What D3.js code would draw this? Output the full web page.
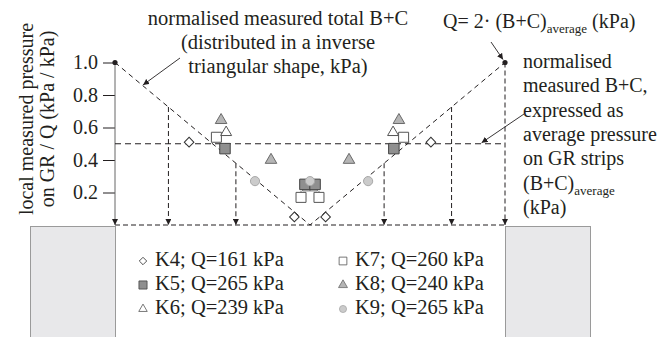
<!DOCTYPE html>
<html>
<head>
<meta charset="utf-8">
<script src="https://cdn.jsdelivr.net/npm/d3@7"></script>
</head>
<body style="margin:0;background:#fff">
<svg width="662" height="337"></svg>
<script>
// ---- data (x = relative position across the GR strips, y = local pressure / Q)
const series = ['K4', 'K5', 'K6', 'K7', 'K8', 'K9'];
const qValues = [161, 265, 239, 260, 240, 265];

const k4Points = [[0.19, 0.51], [0.46, 0.05], [0.54, 0.05], [0.81, 0.51]];
const k5Points = [[0.282, 0.47], [0.487, 0.25], [0.513, 0.25], [0.715, 0.47]];
const k6Points = [[0.285, 0.57], [0.713, 0.57]];
const k7Points = [[0.26, 0.54], [0.477, 0.17], [0.523, 0.17], [0.74, 0.54]];
const k8Points = [[0.272, 0.645], [0.40, 0.40], [0.60, 0.40], [0.728, 0.645]];
const k9Points = [[0.359, 0.27], [0.5, 0.27], [0.649, 0.27]];

// inverse triangular distribution and the average level
const trianglePoints = [[0, 1], [0.5, 0], [1, 1]];
const averageLevel = 0.5;
// positions of the GR strips (vertical arrows)
const stripX = [0.137, 0.31, 0.69, 0.863, 1];
const yTicks = [0.2, 0.4, 0.6, 0.8, 1.0];

const serif = '"Liberation Serif"';
const ink = '#231f20';

const svg = d3.select('svg');

const x = d3.scaleLinear().domain([0, 1]).range([115, 505]);
const y = d3.scaleLinear().domain([0, 1]).range([225, 62.5]);

// text helper: serif font set through style
const label = (sel, size) => sel.style('font-family', serif).attr('font-size', size).attr('fill', ink);

// arrowhead marker
svg.append('defs').append('marker')
    .attr('id', 'arrow')
    .attr('viewBox', '0 0 10 10')
    .attr('refX', 10).attr('refY', 5)
    .attr('markerWidth', 6).attr('markerHeight', 6)
    .attr('markerUnits', 'userSpaceOnUse')
    .attr('orient', 'auto')
  .append('path')
    .attr('d', 'M0,0 L10,5 L0,10 Z')
    .attr('fill', ink);

// ---- supports (grey blocks) below the baseline
const supports = [[30, 115], [505, 590]];
svg.selectAll('rect.support')
  .data(supports)
  .enter().append('rect')
    .attr('class', 'support')
    .attr('x', d => d[0] + 0.5)
    .attr('y', 226.5)
    .attr('width', d => d[1] - d[0])
    .attr('height', 130)
    .attr('fill', '#e8e8ea')
    .attr('stroke', '#9a9a9a')
    .attr('stroke-width', 1);

// ---- axis
const axis = svg.append('g')
    .attr('transform', `translate(${x(0)},0)`)
    .call(d3.axisLeft(y).tickValues(yTicks).tickFormat(d3.format('.1f')).tickSize(12).tickPadding(5));
axis.select('.domain').remove();
axis.selectAll('line').attr('stroke', ink);
axis.selectAll('text').call(label, 20);

// axis line with arrow at the bottom
svg.append('line')
    .attr('x1', x(0)).attr('x2', x(0))
    .attr('y1', y(1)).attr('y2', y(0))
    .attr('stroke', '#666')
    .attr('marker-end', 'url(#arrow)');

svg.append('g')
    .attr('class', 'y-label')
    .selectAll('text')
    .data(['local measured pressure', 'on GR / Q (kPa / kPa)'])
    .enter().append('text')
      .attr('transform', (d, i) => `translate(${33 + i * 21},119) rotate(-90)`)
      .attr('text-anchor', 'middle')
      .call(label, 20)
      .text(d => d);

// ---- dashed reference lines
const line = d3.line().x(d => x(d[0])).y(d => y(d[1]));

svg.append('path')
    .attr('d', line([[0, 0], [1, 0]]))
    .attr('fill', 'none')
    .attr('stroke', ink)
    .attr('stroke-dasharray', '5,3');

svg.append('path')
    .attr('d', line([[0, averageLevel], [1, averageLevel]]))
    .attr('fill', 'none')
    .attr('stroke', ink)
    .attr('stroke-dasharray', '6,4');

svg.append('path')
    .attr('d', line(trianglePoints))
    .attr('fill', 'none')
    .attr('stroke', ink)
    .attr('stroke-dasharray', '5,4');

const triangleValue = d3.scaleLinear().domain(trianglePoints.map(d => d[0])).range(trianglePoints.map(d => d[1]));

svg.selectAll('line.strip')
  .data(stripX)
  .enter().append('line')
    .attr('class', 'strip')
    .attr('x1', d => x(d)).attr('x2', d => x(d))
    .attr('y1', d => y(triangleValue(d)))
    .attr('y2', y(0))
    .attr('stroke', ink)
    .attr('stroke-dasharray', '5,3')
    .attr('marker-end', 'url(#arrow)');

// end dots
svg.selectAll('circle.end')
  .data([[0, 1], [1, 1]])
  .enter().append('circle')
    .attr('class', 'end')
    .attr('cx', d => x(d[0])).attr('cy', d => y(d[1]))
    .attr('r', 2.6)
    .attr('fill', ink);

// ---- markers
const styles = {
  K4: {type: d3.symbolSquare, size: 46, rotate: 45, fill: '#fff', stroke: '#333'},
  K5: {type: d3.symbolSquare, size: 110, rotate: 0, fill: '#8f8f8f', stroke: '#444'},
  K6: {type: d3.symbolTriangle, size: 52, rotate: 0, fill: '#fff', stroke: '#555'},
  K7: {type: d3.symbolSquare, size: 100, rotate: 0, fill: '#fff', stroke: '#555'},
  K8: {type: d3.symbolTriangle, size: 58, rotate: 0, fill: '#b5b5b5', stroke: '#6a6a6a'},
  K9: {type: d3.symbolCircle, size: 66, rotate: 0, fill: '#cbcbcb', stroke: '#a8a8a8'}
};
const pointsBySeries = {K4: k4Points, K5: k5Points, K6: k6Points, K7: k7Points, K8: k8Points, K9: k9Points};

// small leader lines in the centre cluster (between K5 and K7 squares)
const cx0 = x(0.5), yDark = y(0.25) + 5, yLink = y(0.21), yWhite = y(0.17) - 5;
svg.append('path')
    .attr('d', `M${x(0.481)},${yDark}V${yLink}H${x(0.519)}V${yDark}M${cx0},${yDark}V${yLink}` +
               `M${x(0.477)},${yLink}V${yWhite}M${x(0.523)},${yLink}V${yWhite}`)
    .attr('fill', 'none')
    .attr('stroke', '#555')
    .attr('stroke-width', 0.8);

const drawOrder = ['K7', 'K5', 'K4', 'K6', 'K8', 'K9'];
drawOrder.forEach(k => {
  const s = styles[k];
  svg.append('g').attr('class', 'series-' + k)
    .selectAll('path')
    .data(pointsBySeries[k])
    .enter().append('path')
      .attr('transform', d => `translate(${x(d[0])},${y(d[1])}) rotate(${s.rotate})`)
      .attr('d', d3.symbol().type(s.type).size(s.size))
      .attr('fill', s.fill)
      .attr('stroke', s.stroke)
      .attr('stroke-width', 1);
});

// ---- legend
const legend = svg.append('g').attr('class', 'legend');
series.forEach((k, i) => {
  const col = Math.floor(i / 3), row = i % 3;
  const lx = 143 + col * 200, ly = 261 + row * 24;
  const s = styles[k];
  legend.append('path')
      .attr('transform', `translate(${lx},${ly}) rotate(${s.rotate})`)
      .attr('d', d3.symbol().type(s.type).size(s.size * 0.6))
      .attr('fill', s.fill)
      .attr('stroke', s.stroke)
      .attr('stroke-width', 0.8);
  legend.append('text')
      .attr('x', lx + 12)
      .attr('y', ly + 5)
      .call(label, 20.5)
      .text(`${k}; Q=${qValues[i]} kPa`);
});

// ---- annotations
const title = svg.append('g').attr('class', 'note-left');
['normalised measured total B+C', '(distributed in a inverse', 'triangular shape, kPa)'].forEach((t, i) => {
  title.append('text')
      .attr('x', 278).attr('y', 25 + i * 24)
      .attr('text-anchor', 'middle')
      .call(label, 20.5)
      .text(t);
});
svg.append('line')
    .attr('x1', 180).attr('y1', 58)
    .attr('x2', x(0.072)).attr('y2', y(triangleValue(0.072)) - 1)
    .attr('stroke', ink).attr('stroke-width', 0.9)
    .attr('marker-end', 'url(#arrow)');

const q = svg.append('text').attr('x', 443).attr('y', 28).call(label, 20);
q.append('tspan').text('Q= 2· (B+C)');
q.append('tspan').attr('font-size', 13).attr('dy', 5).text('average');
q.append('tspan').attr('dy', -5).text(' (kPa)');
svg.append('line')
    .attr('x1', 491).attr('y1', 42)
    .attr('x2', x(1) - 2).attr('y2', y(1) - 3)
    .attr('stroke', ink).attr('stroke-width', 0.9)
    .attr('marker-end', 'url(#arrow)');

const right = svg.append('g').attr('class', 'note-right');
const rightLines = ['normalised', 'measured B+C,', 'expressed as', 'average pressure', 'on GR strips', null, '(kPa)'];
rightLines.forEach((t, i) => {
  const tx = right.append('text').attr('x', 523).attr('y', 68 + i * 24.3).call(label, 20);
  if (t) tx.text(t);
  else {
    tx.append('tspan').text('(B+C)');
    tx.append('tspan').attr('font-size', 13).attr('dy', 5).text('average');
  }
});
svg.append('line')
    .attr('x1', 524).attr('y1', 114)
    .attr('x2', x(0.94)).attr('y2', y(averageLevel) - 1)
    .attr('stroke', ink).attr('stroke-width', 0.9)
    .attr('marker-end', 'url(#arrow)');
</script>
</body>
</html>
